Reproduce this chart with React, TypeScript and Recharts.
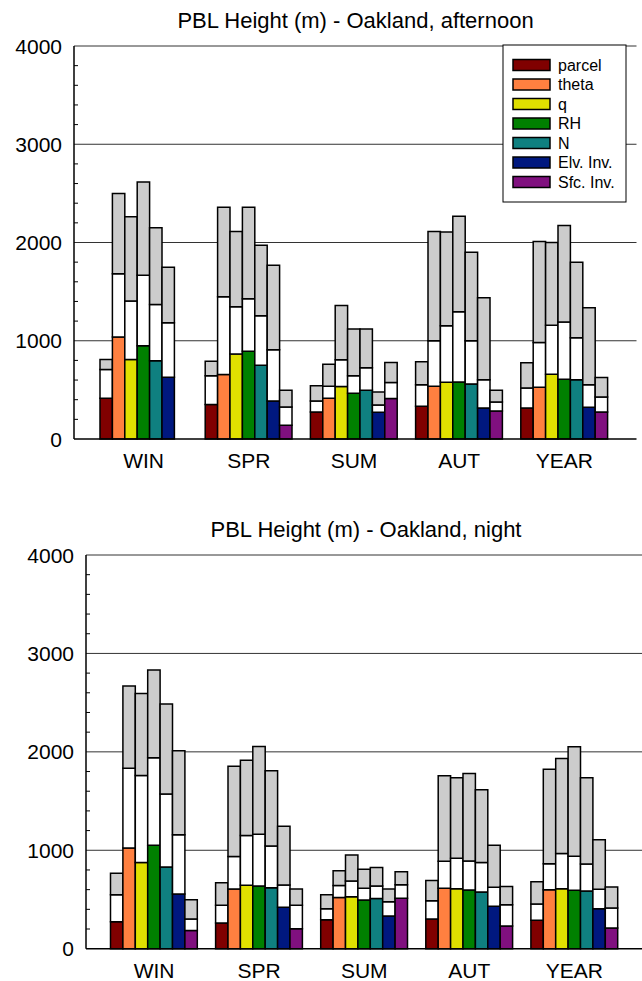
import { BarChart, Bar, XAxis, YAxis, CartesianGrid } from 'recharts';

const FONT = '"Liberation Sans", Arial, Helvetica, sans-serif';

const seasons = ['WIN', 'SPR', 'SUM', 'AUT', 'YEAR'];
const methodNames = ['parcel', 'theta', 'q', 'RH', 'N', 'Elv. Inv.', 'Sfc. Inv.'];
const methodColors = ['#800000', '#ff8040', '#e0e000', '#008000', '#0f8080', '#00187f', '#80107f'];
const yTicks = [0, 200, 400, 600, 800, 1000, 1200, 1400, 1600, 1800, 2000, 2200, 2400, 2600, 2800, 3000, 3200, 3400, 3600, 3800, 4000];
const gridValues = [1000, 2000, 3000, 4000];

// each entry: [coloured top, white top, grey top] per season
const afternoonParcel = [[415, 707, 809], [350, 643, 792], [275, 388, 541], [333, 551, 785], [316, 520, 775]];
const afternoonTheta = [[1037, 1683, 2500], [656, 1448, 2360], [415, 537, 762], [537, 1000, 2112], [527, 983, 2009]];
const afternoonQ = [[809, 1404, 2261], [864, 1346, 2112], [534, 806, 1360], [578, 1153, 2108], [660, 1159, 1999]];
const afternoonRH = [[949, 1666, 2615], [894, 1428, 2360], [466, 643, 1119], [581, 1295, 2268], [609, 1190, 2173]];
const afternoonN = [[796, 1370, 2149], [751, 1255, 1972], [496, 724, 1119], [561, 1000, 1901], [602, 1030, 1799]];
const afternoonElv = [[629, 1183, 1748], [388, 908, 1768], [272, 347, 479], [316, 602, 1438], [323, 551, 1336]];
const afternoonSfc = [null, [139, 326, 496], [411, 575, 779], [286, 377, 496], [275, 428, 626]];

const nightParcel = [[275, 549, 766], [261, 441, 671], [295, 407, 549], [302, 488, 692], [288, 454, 681]];
const nightTheta = [[1024, 1834, 2668], [607, 936, 1854], [519, 641, 793], [614, 888, 1756], [600, 864, 1824]];
const nightQ = [[875, 1759, 2593], [644, 1149, 1915], [529, 688, 953], [610, 919, 1736], [610, 966, 1932]];
const nightRH = [[1051, 1939, 2831], [637, 1163, 2054], [495, 614, 807], [597, 892, 1780], [593, 939, 2051]];
const nightN = [[831, 1573, 2485], [620, 1044, 1807], [509, 637, 824], [576, 875, 1614], [586, 861, 1736]];
const nightElv = [[556, 1159, 2010], [420, 647, 1244], [332, 478, 607], [431, 624, 1051], [407, 603, 1108]];
const nightSfc = [[186, 302, 498], [203, 441, 607], [512, 651, 783], [231, 447, 631], [210, 414, 627]];

const afternoonSeries = [afternoonParcel, afternoonTheta, afternoonQ, afternoonRH, afternoonN, afternoonElv, afternoonSfc];
const nightSeries = [nightParcel, nightTheta, nightQ, nightRH, nightN, nightElv, nightSfc];

function buildRows(series: (number[] | null)[][]) {
  return seasons.map((season, i) => {
    const row: Record<string, any> = { season };
    series.forEach((levels, m) => {
      const v = levels[i];
      if (!v) return;
      row[`m${m}a`] = v[0];
      row[`m${m}b`] = v[1] - v[0];
      row[`m${m}c`] = v[2] - v[1];
    });
    return row;
  });
}

const LeftTick = (props: any) => {
  const { x, y, payload } = props;
  const v = payload.value;
  return (
    <g>
      {v % 1000 !== 0 && <line x1={x} x2={x + 4} y1={y} y2={y} stroke="#000" />}
      {v % 1000 === 0 && (
        <text x={x - 12} y={y} dy="0.36em" textAnchor="end" fontSize={21} fontFamily={FONT} fill="#000">
          {v}
        </text>
      )}
    </g>
  );
};

const RightTick = (props: any) => {
  const { x, y, payload } = props;
  if (payload.value % 1000 === 0) return <g />;
  return <line x1={x - 5} x2={x} y1={y} y2={y} stroke="#000" />;
};

type PanelProps = {
  series: (number[] | null)[][];
  width: number;
  height: number;
  margin: { top: number; right: number; bottom: number; left: number };
  padding: { left: number; right: number };
};

function Panel({ series, width, height, margin, padding }: PanelProps) {
  const rows = buildRows(series);
  return (
    <BarChart width={width} height={height} data={rows} margin={margin} barSize={12.4} barGap={0}>
      <CartesianGrid vertical={false} horizontalValues={gridValues} stroke="#333" yAxisId="left" />
      <XAxis
        dataKey="season"
        padding={padding}
        tickLine={false}
        tickSize={0}
        tickMargin={14}
        height={30}
        axisLine={{ stroke: '#000', strokeWidth: 1.5 }}
        tick={{ fontSize: 21, fontFamily: FONT, fill: '#000' }}
      />
      <YAxis
        yAxisId="left"
        type="number"
        domain={[0, 4000]}
        ticks={yTicks}
        interval={0}
        width={64}
        tickLine={false}
        tickSize={0}
        tickMargin={0}
        axisLine={{ stroke: '#000', strokeWidth: 1.5 }}
        tick={<LeftTick />}
      />
      <YAxis
        yAxisId="right"
        orientation="right"
        type="number"
        domain={[0, 4000]}
        ticks={yTicks}
        interval={0}
        width={0}
        tickLine={false}
        tickSize={0}
        tickMargin={0}
        axisLine={{ stroke: '#000', strokeWidth: 1.5 }}
        tick={<RightTick />}
      />
      {methodNames.map((name, m) =>
        ['a', 'b', 'c'].map((part) => (
          <Bar
            key={`${name}-${part}`}
            yAxisId="left"
            dataKey={`m${m}${part}`}
            stackId={`s${m}`}
            fill={part === 'a' ? methodColors[m] : part === 'b' ? '#ffffff' : '#cccccc'}
            stroke="#000"
            strokeWidth={1.5}
            isAnimationActive={false}
          />
        ))
      )}
    </BarChart>
  );
}

export default function App() {
  return (
    <div style={{ position: 'absolute', left: 0, top: 0, width: 642, height: 981, overflow: 'hidden', background: '#fff' }}>
      <div style={{ position: 'absolute', left: 0, top: 0 }}>
        <Panel
          series={afternoonSeries}
          width={642}
          height={490}
          margin={{ top: 46, right: 5.5, bottom: 21, left: 10 }}
          padding={{ left: 17, right: 19.5 }}
        />
      </div>
      <div style={{ position: 'absolute', left: 0, top: 510 }}>
        <Panel
          series={nightSeries}
          width={652}
          height={471}
          margin={{ top: 45, right: 6, bottom: 2.3, left: 22 }}
          padding={{ left: 15.5, right: 19 }}
        />
      </div>
      <svg width={642} height={981} style={{ position: 'absolute', left: 0, top: 0, pointerEvents: 'none' }}>
        <text x={355.5} y={28} textAnchor="middle" fontSize={22} fontFamily={FONT} fill="#000">
          PBL Height (m) - Oakland, afternoon
        </text>
        <text x={366} y={537} textAnchor="middle" fontSize={22} fontFamily={FONT} fill="#000">
          PBL Height (m) - Oakland, night
        </text>
        <rect x={503} y={45} width={123} height={157} fill="#fff" stroke="#000" strokeWidth={1} />
        {methodNames.map((name, m) => (
          <g key={name}>
            <rect x={513} y={59.5 + m * 19.5} width={37} height={11} fill={methodColors[m]} stroke="#000" strokeWidth={1.5} />
            <text x={558} y={70.5 + m * 19.5} fontSize={16} fontFamily={FONT} fill="#000">
              {name}
            </text>
          </g>
        ))}
      </svg>
    </div>
  );
}
